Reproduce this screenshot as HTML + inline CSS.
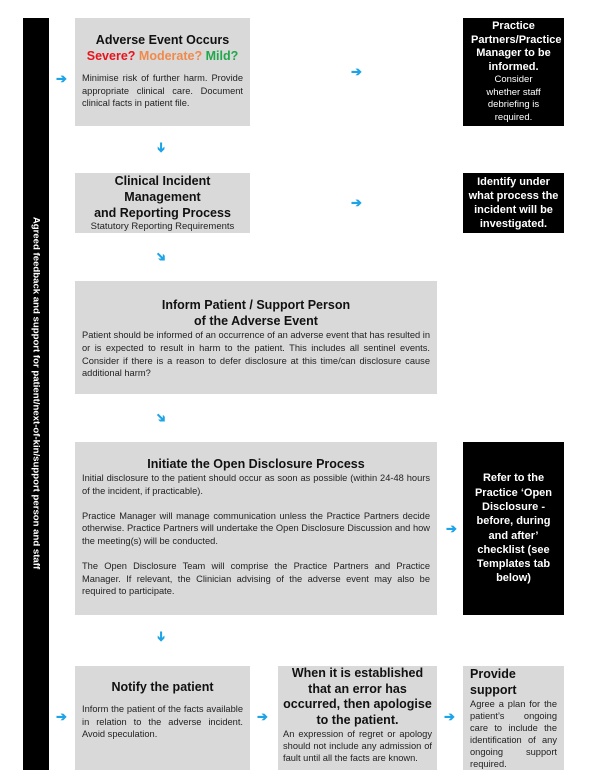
<!DOCTYPE html>
<html><head><meta charset="utf-8"><style>
body{margin:0;width:607px;height:782px;background:#fff;position:relative;font-family:"Liberation Sans",Arial,sans-serif;overflow:hidden}
.b{position:absolute;box-sizing:border-box}
.g{background:#d9d9d9;color:#222}
.k{background:#000;color:#fff;text-align:center;font-weight:bold;font-size:11px;line-height:13px;display:flex;flex-direction:column;justify-content:center}
.t{font-weight:bold;font-size:12.5px;text-align:center;line-height:16px;color:#111}
.p{font-size:9.3px;line-height:11.6px;text-align:justify}
.a{position:absolute;color:#1ea4e6;font-weight:bold;font-size:13px;line-height:13px}
</style></head><body>
<div class="b" style="left:23px;top:18px;width:26px;height:752px;background:#000"></div>
<div style="position:absolute;left:36px;top:393px;transform:translate(-50%,-50%) rotate(90deg);white-space:nowrap;color:#fff;font-weight:bold;font-size:9.6px">Agreed feedback and support for patient/next-of-kin/support person and staff</div>

<div class="b g" style="left:75px;top:18px;width:175px;height:108px;padding:14px 7px 0 7px">
<div class="t" style="font-size:12.5px">Adverse Event Occurs</div>
<div class="t" style="margin-bottom:8px"><span style="color:#e8141c">Severe?</span> <span style="color:#f08a4b">Moderate?</span> <span style="color:#20a84a">Mild?</span></div>
<div class="p" style="line-height:12.5px">Minimise risk of further harm. Provide appropriate clinical care. Document clinical facts in patient file.</div></div>
<div class="b k" style="left:463px;top:18px;width:101px;height:108px;font-size:11px;line-height:13.5px;padding:0 8px"><div>Practice Partners/Practice Manager to be informed.</div><div style="font-weight:normal;font-size:9.5px;line-height:12.5px;padding:0 6px">Consider whether staff<br>debriefing is required.</div></div>

<div class="b g" style="left:75px;top:173px;width:175px;height:60px;padding:0">
<div class="t">Clinical Incident<br>Management<br>and Reporting Process</div>
<div style="font-size:9.5px;text-align:center">Statutory Reporting Requirements</div></div>
<div class="b k" style="left:463px;top:173px;width:101px;height:60px;line-height:14px;font-size:11px;padding:0 5px">Identify under what process the incident will be investigated.</div>

<div class="b g" style="left:75px;top:281px;width:362px;height:113px;padding:16px 7px 0 7px">
<div class="t">Inform Patient / Support Person<br>of the Adverse Event</div>
<div class="p" style="line-height:12.8px">Patient should be informed of an occurrence of an adverse event that has resulted in or is expected to result in harm to the patient. This includes all sentinel events. Consider if there is a reason to defer disclosure at this time/can disclosure cause additional harm?</div></div>

<div class="b g" style="left:75px;top:442px;width:362px;height:173px;padding:14px 7px 0 7px">
<div class="t">Initiate the Open Disclosure Process</div>
<div class="p" style="line-height:12.6px">Initial disclosure to the patient should occur as soon as possible (within 24-48 hours of the incident, if practicable).<br><br>Practice Manager will manage communication unless the Practice Partners decide otherwise. Practice Partners will undertake the Open Disclosure Discussion and how the meeting(s) will be conducted.<br><br>The Open Disclosure Team will comprise the Practice Partners and Practice Manager. If relevant, the Clinician advising of the adverse event may also be required to participate.</div></div>
<div class="b k" style="left:463px;top:442px;width:101px;height:173px;font-size:11px;line-height:14.3px;padding:0 9px">Refer to the Practice ‘Open Disclosure - before, during and after’ checklist (see Templates tab below)</div>

<div class="b g" style="left:75px;top:666px;width:175px;height:104px;padding:13px 7px 0 7px">
<div class="t" style="margin-bottom:8px">Notify the patient</div>
<div class="p" style="line-height:12.5px">Inform the patient of the facts available in relation to the adverse incident. Avoid speculation.</div></div>
<div class="b g" style="left:278px;top:666px;width:159px;height:104px;padding:0 5px">
<div class="t" style="line-height:15.5px">When it is established that an error has occurred, then apologise to the patient.</div>
<div class="p" style="line-height:12px">An expression of regret or apology should not include any admission of fault until all the facts are known.</div></div>
<div class="b g" style="left:463px;top:666px;width:101px;height:104px;padding:0 7px">
<div class="t" style="text-align:left">Provide<br>support</div>
<div class="p" style="line-height:12px">Agree a plan for the patient’s ongoing care to include the identification of any ongoing support required.</div></div>

<div class="a" style="left:56px;top:72px">➔</div>
<div class="a" style="left:351px;top:65px">➔</div>
<div class="a" style="left:351px;top:196px">➔</div>
<div class="a" style="left:446px;top:522px">➔</div>
<div class="a" style="left:56px;top:710px">➔</div>
<div class="a" style="left:257px;top:710px">➔</div>
<div class="a" style="left:444px;top:710px">➔</div>
<div class="a" style="left:156px;top:141px;transform:rotate(90deg)">➔</div>
<div class="a" style="left:156px;top:250px;transform:rotate(45deg)">➔</div>
<div class="a" style="left:156px;top:411px;transform:rotate(45deg)">➔</div>
<div class="a" style="left:156px;top:630px;transform:rotate(90deg)">➔</div>
</body></html>
